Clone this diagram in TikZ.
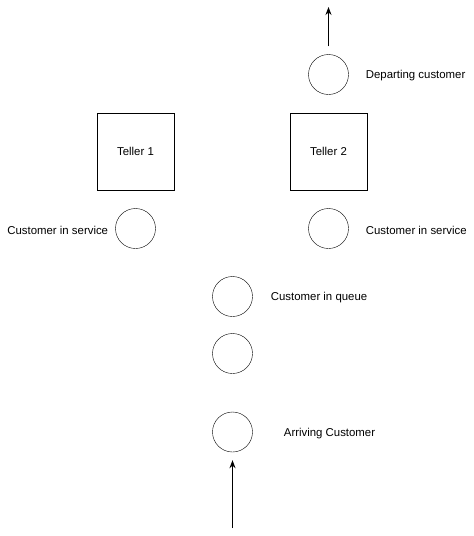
\documentclass[tikz,border=0pt]{standalone}
\usepackage{fontspec}
\setmainfont{Liberation Sans}
\usetikzlibrary{positioning,arrows.meta}

\begin{document}
\begin{tikzpicture}[x=1pt,y=-1pt,
    cust/.style={draw,circle,minimum size=40pt,inner sep=0pt},
    teller/.style={draw,minimum size=77pt,inner sep=0pt},
    lbl/.style={inner sep=0pt,font=\fontsize{11.4}{13}\selectfont},
    side/.style={lbl,yshift=-1.5pt},
    flow/.style={-{Stealth[length=8pt,width=6pt]},line width=0.9pt}]
    \useasboundingbox (0,0) rectangle (474,536);
    % tellers
    \node[teller,lbl] (teller1) at (135.5,151.5) {Teller 1};
    \node[teller,lbl] (teller2) at (328.5,151.5) {Teller 2};
    % customers
    \node[cust] (depart) at (328.5,74.5) {};
    \node[cust] (serv1) at (135.5,228.5) {};
    \node[cust] (serv2) at (328.5,228.5) {};
    \node[cust] (queue1) at (232.5,296.5) {};
    \node[cust] (queue2) at (232.5,353.5) {};
    \node[cust] (arrive) at (232.5,432) {};
    % labels
    \node[side,right=17pt of depart] (departlbl) {Departing customer};
    \node[side,left=7pt of serv1] (serv1lbl) {Customer in service};
    \node[side,right=17pt of serv2] (serv2lbl) {Customer in service};
    \node[side,right=18pt of queue1] (queuelbl) {Customer in queue};
    \node[side,right=31pt of arrive] (arrivelbl) {Arriving Customer};
    % in and out
    \coordinate (exit) at (328.5,7);
    \coordinate (entry) at (232.5,528);
    \draw[flow,shorten <=8pt] (depart) -- (exit);
    \draw[flow,shorten >=8pt] (entry) -- (arrive);
\end{tikzpicture}
\end{document}
